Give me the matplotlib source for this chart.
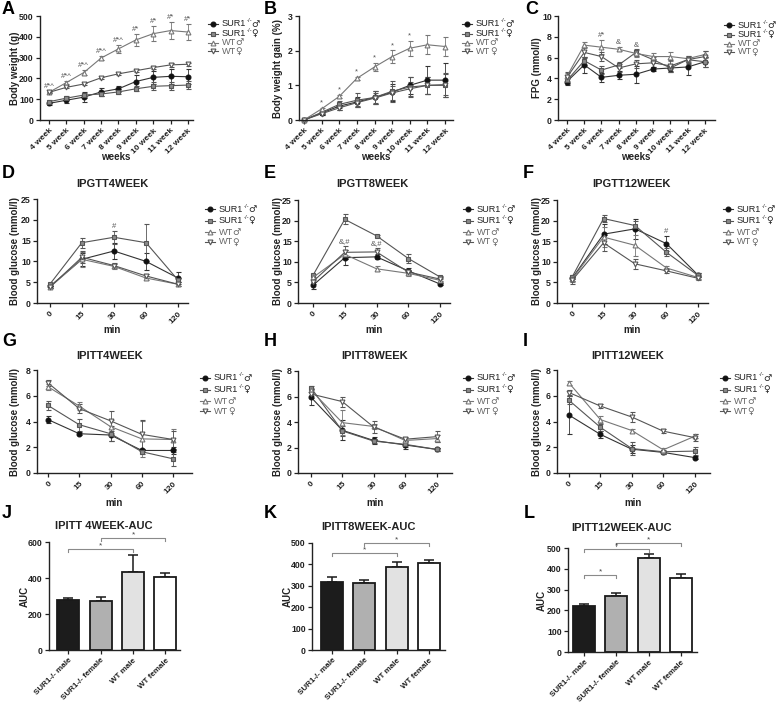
import matplotlib
matplotlib.use('Agg')
import matplotlib.pyplot as plt
import numpy as np
from matplotlib.lines import Line2D

plt.rcParams['font.family'] = ['Liberation Sans', 'DejaVu Sans']

# ---------------- data ----------------
weeks = ['4 week', '5 week', '6 week', '7 week', '8 week', '9 week', '10 week', '11 week', '12 week']
times = ['0', '15', '30', '60', '120']
groups = ['SUR1-/- male', 'SUR1-/- female', 'WT male', 'WT female']
legend_names = ['SUR1', 'SUR1', 'WT', 'WT']
legend_sups = ['-/-', '-/-', '', '']
legend_sex = ['\u2642', '\u2640', '\u2642', '\u2640']

# A body weight (g)
bw_sm = [80, 95, 110, 135, 150, 185, 205, 210, 208]
bw_sf = [88, 105, 120, 125, 135, 150, 162, 165, 168]
bw_wm = [133, 180, 228, 298, 342, 385, 415, 430, 423]
bw_wf = [133, 157, 173, 203, 222, 237, 252, 265, 268]
bw_sm_e = [8, 12, 25, 18, 15, 30, 30, 35, 35]
bw_sf_e = [8, 10, 12, 10, 12, 12, 20, 20, 20]
bw_wm_e = [5, 8, 10, 10, 18, 30, 35, 40, 40]
bw_wf_e = [4, 5, 5, 5, 5, 8, 8, 8, 8]
bw_marks = ['#*^', '#*^', '#*^', '#*^', '#*^', '#*', '#*', '#*', '#*']

# B body weight gain (%)
bg_sm = [0, 0.2, 0.4, 0.52, 0.65, 0.8, 1.0, 1.15, 1.15]
bg_sf = [0, 0.22, 0.45, 0.57, 0.65, 0.83, 0.95, 1.0, 1.02]
bg_wm = [0, 0.32, 0.68, 1.2, 1.53, 1.83, 2.07, 2.17, 2.12]
bg_wf = [0, 0.18, 0.35, 0.5, 0.63, 0.78, 0.9, 1.0, 1.0]
bg_sm_e = [0.01, 0.05, 0.1, 0.15, 0.2, 0.25, 0.25, 0.4, 0.5]
bg_sf_e = [0.01, 0.05, 0.1, 0.2, 0.2, 0.3, 0.3, 0.25, 0.3]
bg_wm_e = [0.01, 0.03, 0.05, 0.05, 0.12, 0.18, 0.22, 0.27, 0.27]
bg_wf_e = [0.01, 0.04, 0.06, 0.1, 0.15, 0.2, 0.2, 0.25, 0.35]
bg_marks = ['', '*', '*', '*', '*', '*', '*', '', '']

# C FPG (mmol/l)
fpg_sm = [3.7, 5.3, 4.1, 4.3, 4.4, 4.9, 5.0, 5.1, 5.6]
fpg_sf = [3.8, 5.7, 4.8, 5.3, 6.5, 5.8, 5.0, 5.8, 5.6]
fpg_wm = [4.2, 7.2, 7.0, 6.8, 6.4, 6.1, 6.1, 5.9, 6.3]
fpg_wf = [4.1, 6.5, 6.1, 5.0, 5.4, 5.5, 5.2, 5.8, 6.1]
fpg_sm_e = [0.3, 0.8, 0.4, 0.4, 0.8, 0.2, 0.3, 0.8, 0.5]
fpg_sf_e = [0.3, 0.4, 0.4, 0.3, 0.3, 0.3, 0.4, 0.3, 0.5]
fpg_wm_e = [0.3, 0.3, 0.7, 0.2, 0.3, 0.3, 0.4, 0.3, 0.3]
fpg_wf_e = [0.5, 0.5, 0.4, 0.4, 0.4, 0.4, 0.6, 0.4, 0.5]
fpg_marks = ['', '', '#*', '&', '&', '', '', '', '']

# D IPGTT 4 week
g4_sm = [4.0, 10.5, 12.5, 10.0, 6.0]
g4_sf = [4.5, 14.5, 15.8, 14.5, 5.5]
g4_wm = [3.8, 10.5, 8.8, 6.0, 4.5]
g4_wf = [3.8, 11.0, 9.0, 6.5, 4.5]
g4_sm_e = [0.5, 1.5, 2.0, 2.0, 1.5]
g4_sf_e = [0.3, 1.2, 1.5, 4.5, 0.5]
g4_wm_e = [0.3, 1.8, 0.6, 0.4, 0.5]
g4_wf_e = [0.3, 1.5, 0.6, 0.5, 0.5]
g4_marks = ['', '', '#', '', '']

# E IPGTT 8 week
g8_sm = [4.3, 11.0, 11.2, 7.8, 4.6]
g8_sf = [6.7, 20.3, 16.3, 10.8, 6.3]
g8_wm = [6.2, 11.8, 8.3, 7.2, 5.5]
g8_wf = [5.2, 12.3, 12.4, 7.5, 5.8]
g8_sm_e = [0.8, 1.8, 0.6, 0.8, 0.3]
g8_sf_e = [0.3, 1.2, 0.2, 1.2, 0.3]
g8_wm_e = [0.5, 1.0, 0.6, 0.6, 0.3]
g8_wf_e = [0.6, 1.5, 1.0, 0.6, 0.4]
g8_marks = ['', '&,#', '&,#', '', '']

# F IPGTT 12 week
g12_sm = [6.0, 16.7, 18.0, 14.4, 6.8]
g12_sf = [6.3, 20.5, 18.8, 12.3, 6.7]
g12_wm = [5.8, 16.0, 14.0, 8.5, 6.2]
g12_wf = [5.5, 14.6, 9.5, 7.8, 6.0]
g12_sm_e = [0.6, 2.5, 2.5, 1.8, 0.6]
g12_sf_e = [0.5, 0.8, 1.2, 1.0, 0.5]
g12_wm_e = [0.6, 2.5, 2.5, 0.4, 0.4]
g12_wf_e = [0.8, 2.0, 1.2, 0.4, 0.4]
g12_marks = ['', '', '', '#', '']

# G IPITT 4 week
i4_sm = [4.15, 3.05, 2.95, 1.75, 1.75]
i4_sf = [5.25, 3.75, 3.05, 1.65, 1.1]
i4_wm = [6.7, 5.2, 3.6, 2.65, 2.6]
i4_wf = [7.0, 5.0, 4.05, 3.0, 2.6]
i4_sm_e = [0.3, 0.1, 0.5, 0.1, 0.3]
i4_sf_e = [0.35, 0.45, 0.6, 0.15, 0.55]
i4_wm_e = [0.25, 0.3, 0.5, 1.4, 0.8]
i4_wf_e = [0.25, 0.35, 0.75, 1.1, 0.7]

# H IPITT 8 week
i8_sm = [5.95, 3.35, 2.55, 2.2, 1.85]
i8_sf = [6.7, 3.3, 2.5, 2.25, 1.85]
i8_wm = [6.5, 3.95, 3.65, 2.55, 2.7]
i8_wf = [6.2, 5.6, 3.6, 2.65, 2.85]
i8_sm_e = [0.6, 0.8, 0.3, 0.3, 0.1]
i8_sf_e = [0.15, 0.4, 0.15, 0.2, 0.15]
i8_wm_e = [0.2, 1.0, 0.2, 0.2, 0.3]
i8_wf_e = [0.3, 0.4, 0.45, 0.15, 0.45]

# I IPITT 12 week
i12_sm = [4.5, 3.0, 1.85, 1.6, 1.2]
i12_sf = [5.65, 3.55, 1.9, 1.65, 1.7]
i12_wm = [7.0, 4.15, 3.3, 1.8, 2.85]
i12_wf = [6.25, 5.2, 4.35, 3.25, 2.75]
i12_sm_e = [1.5, 0.3, 0.3, 0.1, 0.1]
i12_sf_e = [0.3, 0.25, 0.5, 0.15, 0.3]
i12_wm_e = [0.15, 0.25, 0.15, 0.15, 0.15]
i12_wf_e = [0.2, 0.15, 0.35, 0.15, 0.25]

# J-L AUC
auc4 = [278, 272, 435, 405]
auc4_e = [12, 22, 95, 25]
auc8 = [318, 312, 390, 405]
auc8_e = [25, 14, 22, 15]
auc12 = [220, 270, 452, 355]
auc12_e = [10, 12, 20, 18]
# brackets: (bar i, bar j, height)
br4 = [(0, 2, 560), (1, 3, 622)]
br8 = [(0, 2, 453), (1, 3, 500)]
br12 = [(0, 1, 370), (0, 2, 495), (1, 3, 524)]

# ---------------- drawing ----------------
W, H = 778, 703
fig = plt.figure(figsize=(W / 100, H / 100), dpi=100)
renderer = fig.canvas.get_renderer()

def axpx(l, t, r, b):
    return fig.add_axes([l / W, 1 - b / H, (r - l) / W, (b - t) / H])

def txt(x, y, s, **kw):
    return fig.text(x / W, 1 - y / H, s, **kw)

def style(ax, xfs=6.0):
    for s in ['top', 'right']:
        ax.spines[s].set_visible(False)
    for s in ['left', 'bottom']:
        ax.spines[s].set_linewidth(1.0)
        ax.spines[s].set_color('#222222')
    ax.tick_params(direction='out', length=3, width=0.9, labelsize=6.3, pad=1.5, colors='#222222')
    ax.tick_params(axis='x', labelsize=xfs, pad=2)
    for lab in ax.get_xticklabels() + ax.get_yticklabels():
        lab.set_fontweight('bold')

ser_style = [
    dict(marker='o', mfc='#111111', mec='#111111', color='#333333'),
    dict(marker='s', mfc='#8a8a8a', mec='#555555', color='#555555'),
    dict(marker='^', mfc='white', mec='#777777', color='#777777'),
    dict(marker='v', mfc='white', mec='#555555', color='#555555'),
]

def line_panel(ax, xl, ys, es, ylim, yticks, xlim, marks=None, mark_ref=2, mark_fs=5.5):
    x = np.arange(len(xl))
    for y, e, st in zip(ys, es, ser_style):
        ax.errorbar(x, y, yerr=e, color=st['color'], lw=0.8, marker=st['marker'], ms=3.5,
                    mfc=st['mfc'], mec=st['mec'], mew=0.8, capsize=1.8, elinewidth=0.6,
                    capthick=0.6, ecolor=st['color'], clip_on=False)
    ax.set_xlim(*xlim)
    ax.set_ylim(*ylim)
    ax.set_yticks(yticks)
    ax.set_xticks(x)
    ax.set_xticklabels(xl, rotation=45, ha='right', rotation_mode='anchor')
    style(ax)
    if marks is not None:
        span = ylim[1] - ylim[0]
        for i, m in enumerate(marks):
            if m:
                top = ys[mark_ref][i] + es[mark_ref][i]
                ax.text(x[i], top + span * 0.01, m, ha='center', va='bottom', fontsize=mark_fs,
                        color='#555555')

def legend_at(mx, y0, offs, fs=6.6):
    for k, st in enumerate(ser_style):
        ypx = y0 + offs[k]
        yy = 1 - ypx / H
        col = '#222222' if k < 2 else '#666666'
        fig.add_artist(Line2D([(mx - 5) / W, (mx + 5) / W], [yy, yy], color=st['color'], lw=0.8,
                              transform=fig.transFigure))
        fig.add_artist(Line2D([mx / W], [yy], marker=st['marker'], ms=3.5, mfc=st['mfc'],
                              mec=st['mec'], mew=0.8, lw=0, transform=fig.transFigure))
        t1 = txt(mx + 9, ypx, legend_names[k], fontsize=fs, va='center', ha='left', color=col)
        xr = t1.get_window_extent(renderer).x1
        xend_px = xr
        if legend_sups[k]:
            t2 = fig.text(xr / W, 1 - (ypx - 3) / H, legend_sups[k], fontsize=4.3, va='center',
                          ha='left', color=col)
            xend_px = t2.get_window_extent(renderer).x1
        fig.text((xend_px - 0.5) / W, 1 - (ypx + 0.2) / H, legend_sex[k], fontsize=6.6,
                 family='DejaVu Sans', va='center', ha='left', color=col)

# Row 1
axA = axpx(40, 16, 193, 120)
line_panel(axA, weeks, [bw_sm, bw_sf, bw_wm, bw_wf], [bw_sm_e, bw_sf_e, bw_wm_e, bw_wf_e],
           (0, 500), [0, 100, 200, 300, 400, 500], (-0.52, 8.29), bw_marks)
axB = axpx(299, 16, 453, 120)
line_panel(axB, weeks, [bg_sm, bg_sf, bg_wm, bg_wf], [bg_sm_e, bg_sf_e, bg_wm_e, bg_wf_e],
           (0, 3), [0, 1, 2, 3], (-0.28, 8.45), bg_marks)
axC = axpx(558, 16, 715, 120)
line_panel(axC, weeks, [fpg_sm, fpg_sf, fpg_wm, fpg_wf], [fpg_sm_e, fpg_sf_e, fpg_wm_e, fpg_wf_e],
           (0, 10), [0, 2, 4, 6, 8, 10], (-0.52, 8.58), fpg_marks)

# Row 2
axD = axpx(37, 199, 188, 303)
line_panel(axD, times, [g4_sm, g4_sf, g4_wm, g4_wf], [g4_sm_e, g4_sf_e, g4_wm_e, g4_wf_e],
           (0, 25), [0, 5, 10, 15, 20, 25], (-0.4, 4.31), g4_marks, mark_ref=1)
axE = axpx(298, 200, 450, 303)
line_panel(axE, times, [g8_sm, g8_sf, g8_wm, g8_wf], [g8_sm_e, g8_sf_e, g8_wm_e, g8_wf_e],
           (0, 25), [0, 5, 10, 15, 20, 25], (-0.47, 4.31), g8_marks, mark_ref=3)
axF = axpx(557, 200, 708, 303)
line_panel(axF, times, [g12_sm, g12_sf, g12_wm, g12_wf], [g12_sm_e, g12_sf_e, g12_wm_e, g12_wf_e],
           (0, 25), [0, 5, 10, 15, 20, 25], (-0.48, 4.32), g12_marks, mark_ref=0)

# Row 3
axG = axpx(37, 370, 192, 473)
line_panel(axG, times, [i4_sm, i4_sf, i4_wm, i4_wf], [i4_sm_e, i4_sf_e, i4_wm_e, i4_wf_e],
           (0, 8), [0, 2, 4, 6, 8], (-0.35, 4.6))
axH = axpx(298, 371, 452, 473)
line_panel(axH, times, [i8_sm, i8_sf, i8_wm, i8_wf], [i8_sm_e, i8_sf_e, i8_wm_e, i8_wf_e],
           (0, 8), [0, 2, 4, 6, 8], (-0.41, 4.49))
axI = axpx(557, 370, 710, 473)
line_panel(axI, times, [i12_sm, i12_sf, i12_wm, i12_wf], [i12_sm_e, i12_sf_e, i12_wm_e, i12_wf_e],
           (0, 8), [0, 2, 4, 6, 8], (-0.38, 4.49))

# Row 4 bars
bar_colors = ['#1c1c1c', '#b0b0b0', '#e2e2e2', '#ffffff']

def bar_panel(ax, vals, errs, ylim, yticks, xlim, brs, drop):
    x = np.arange(4)
    ax.bar(x, vals, width=0.68, color=bar_colors, edgecolor='#1a1a1a', linewidth=1.3, zorder=2)
    ax.errorbar(x, vals, yerr=[np.zeros(4), errs], fmt='none', ecolor='#1a1a1a', elinewidth=1.1,
                capsize=3.5, capthick=1.1, zorder=1)
    ax.set_xlim(*xlim)
    ax.set_ylim(*ylim)
    ax.set_yticks(yticks)
    ax.set_xticks(x)
    ax.set_xticklabels(groups, rotation=45, ha='right', rotation_mode='anchor')
    style(ax, xfs=5.8)
    for i, j, h in brs:
        ax.plot([i, i, j, j], [h - drop, h, h, h - drop], color='#8a8a8a', lw=0.8, clip_on=False)
        ax.text((i + j) / 2, h, '*', ha='center', va='bottom', fontsize=6, color='#444444')

axJ = axpx(49, 542, 180, 650)
bar_panel(axJ, auc4, auc4_e, (0, 600), [0, 200, 400, 600], (-0.6, 3.45), br4, 18)
axK = axpx(312, 543, 445, 650)
bar_panel(axK, auc8, auc8_e, (0, 500), [0, 100, 200, 300, 400, 500], (-0.62, 3.49), br8, 15)
axL = axpx(568, 548, 697, 652)
bar_panel(axL, auc12, auc12_e, (0, 500), [0, 100, 200, 300, 400, 500], (-0.5, 3.5), br12, 15)

# Legends (manual)
off1 = [0, 9.5, 18.5, 27]
off2 = [0, 11.5, 23, 33]
legend_at(213, 24, off1)
legend_at(467, 24, off1)
legend_at(729, 25, off1)
legend_at(210, 209, off2)
legend_at(468, 209, off2)
legend_at(728, 209, off2)
legend_at(205, 378, off2)
legend_at(468, 378, off2)
legend_at(725, 378, off2)

# Axis labels
lab = dict(fontsize=7, fontweight='bold', color='#222222', ha='center', va='center')
for x in [116, 376, 636]:
    txt(x, 157, 'weeks', **lab)
for x in [112, 374, 632]:
    txt(x, 330, 'min', **lab)
for x in [114, 375, 633]:
    txt(x, 503, 'min', **lab)
txt(15, 68, 'Body weight (g)', rotation=90, **lab)
txt(278, 68, 'Body weight gain (%)', rotation=90, **lab)
txt(537, 68, 'FPG (mmol/l)', rotation=90, **lab)
for x in [15, 278, 537]:
    txt(x, 251, 'Blood glucose (mmol/l)', rotation=90, **lab)
    txt(x, 422, 'Blood glucose (mmol/l)', rotation=90, **lab)
txt(25, 596, 'AUC', rotation=90, **lab)
txt(288, 596, 'AUC', rotation=90, **lab)
txt(542, 600, 'AUC', rotation=90, **lab)

# Titles
tit = dict(fontsize=8, fontweight='bold', color='#222222', ha='center', va='center')
txt(112, 184, 'IPGTT4WEEK', **tit)
txt(372, 184, 'IPGTT8WEEK', **tit)
txt(631, 184, 'IPGTT12WEEK', **tit)
txt(110, 356, 'IPITT4WEEK', **tit)
txt(375, 356, 'IPITT8WEEK', **tit)
txt(628, 356, 'IPITT12WEEK', **tit)
txt(104, 526, 'IPITT 4WEEK-AUC', **tit)
txt(368, 527, 'IPITT8WEEK-AUC', **tit)
txt(622, 528, 'IPITT12WEEK-AUC', **tit)

# Panel letters
pl = dict(fontsize=13, fontweight='bold', color='#000000', ha='left', va='center')
for s, x, y in [('A', 2, 10), ('B', 264, 10), ('C', 525, 10),
                ('D', 2, 173), ('E', 264, 173), ('F', 523, 173),
                ('G', 2, 341), ('H', 264, 341), ('I', 523, 341),
                ('J', 2, 513), ('K', 264, 514), ('L', 524, 514)]:
    txt(x, y, s, **pl)

fig.savefig('out.png', dpi=100)
